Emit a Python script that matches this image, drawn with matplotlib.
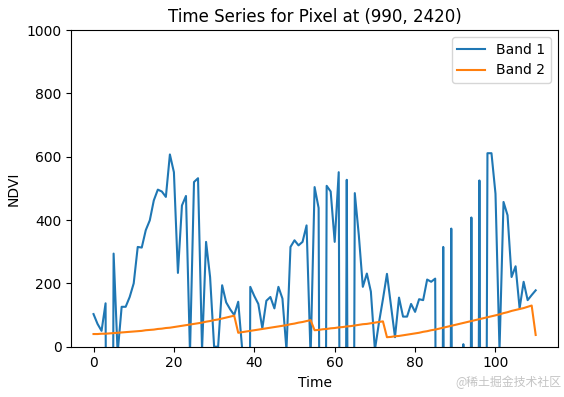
import numpy as np
import matplotlib.pyplot as plt

# NDVI time series, -3000 = no-data fill value (drops off the bottom of the plot)
band1 = [103, 72, 50, 137, -3000, 294, -20, 126, 126, 157,
         200, 315, 313, 368, 399, 462, 496, 490, 473, 607,
         551, 233, 446, 476, -20, 520, 532, -10, 331, 220,
         0, 0, 194, 140, 118, 100, 142, -10, -3000, 189,
         160, 135, 58, 145, 157, 121, 189, 152, -10, 315,
         336, 320, 331, 383, -30, 504, 438, -3000, 508, 490,
         331, 551, -3000, 527, -3000, 485, 352, 189, 231, 174,
         -10, 75, 150, 230, 130, 30, 155, 95, 95, 135,
         110, 150, 147, 212, 205, 215, -3000, 315, -3000, 373,
         -3000, -3000, 8, -3000, 408, -3000, 525, -3000, 611, 611,
         483, -10, 457, 415, 220, 254, 121, 205, 147, 163,
         178]

band2 = [40, 40, 41, 41, 42, 43, 44, 45, 46, 47,
         48, 49, 50, 52, 53, 54, 56, 57, 59, 60,
         62, 64, 66, 68, 70, 72, 74, 76, 79, 81,
         84, 86, 89, 92, 95, 98, 44, 46, 48, 50,
         52, 54, 56, 58, 60, 62, 64, 66, 68, 71,
         73, 76, 78, 81, 84, 52, 53, 55, 56, 58,
         59, 61, 62, 64, 65, 67, 69, 71, 72, 74,
         76, 78, 80, 30, 31, 33, 34, 36, 38, 40,
         42, 44, 47, 49, 52, 54, 57, 60, 63, 66,
         69, 72, 75, 78, 81, 84, 87, 90, 93, 96,
         99, 102, 106, 109, 113, 116, 119, 122, 126, 130,
         37]

plt.rcParams['font.size'] = 10

fig = plt.figure(figsize=(5.64, 3.97), dpi=100)
ax = fig.add_axes([0.1266, 0.1267, 0.8624, 0.7977])

ax.plot(np.arange(len(band1)), band1, label='Band 1')
ax.plot(np.arange(len(band2)), band2, label='Band 2')

ax.set_ylim(0, 1000)
ax.set_title('Time Series for Pixel at (990, 2420)', fontsize=12)
ax.set_xlabel('Time')
ax.set_ylabel('NDVI')
ax.legend(loc='upper right')

fig.text(0.995, 0.02, '@稀土掘金技术社区', ha='right', va='bottom', fontsize=8.6,
         color='#c4c4c4', family=['Noto Sans CJK SC', 'DejaVu Sans'])

fig.savefig('out.png', dpi=100)
